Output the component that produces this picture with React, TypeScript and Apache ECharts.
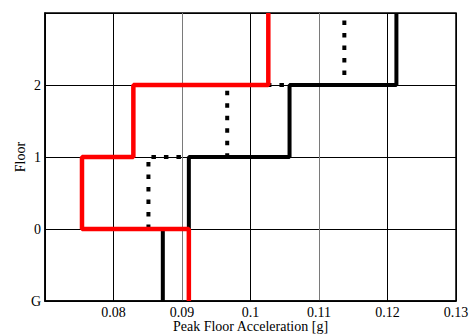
import React, { useEffect, useRef } from "react";
import * as echarts from "echarts";

// Level labels on the vertical axis (index = axis value)
const levelLabels = ["G", "0", "1", "2", ""];

// Peak floor acceleration [g] per level, listed bottom-up
const redAccel = [0.091, 0.0754, 0.0829, 0.1026]; // levels G, 0, 1, 2
const blackAccel = [0.0872, 0.091, 0.1057, 0.1213]; // levels G, 0, 1, 2
const dottedAccel = [0.0851, 0.0966, 0.1137]; // levels 0, 1, 2
const dottedStartLevel = 1;

const xMin = 0.07;
const xMax = 0.13;
const xStep = 0.01;

// Vertical grid line colours, one per tick from xMin to xMax
const xGridColors = ["#000", "#000", "#7a7a7a", "#000", "#7a7a7a", "#000", "#000"];

// Each level's value spans from its own level line up to the next one
function stepProfile(values: number[], startLevel: number): number[][] {
  const pts: number[][] = [];
  values.forEach((v, i) => {
    pts.push([v, startLevel + i]);
    pts.push([v, startLevel + i + 1]);
  });
  return pts;
}

const serif = "Liberation Serif";

export default function App() {
  const ref = useRef<HTMLDivElement>(null);

  useEffect(() => {
    if (!ref.current) return;
    const chart = echarts.init(ref.current, undefined, { renderer: "svg" });
    chart.setOption({
      animation: false,
      backgroundColor: "#ffffff",
      grid: {
        left: 45,
        right: 13,
        top: 13,
        bottom: 34,
        outerBoundsMode: "none",
        containLabel: false,
        show: true,
        borderColor: "#000",
        borderWidth: 1.5,
      },
      xAxis: {
        type: "value",
        min: xMin,
        max: xMax,
        interval: xStep,
        name: "Peak Floor Acceleration [g]",
        nameLocation: "middle",
        nameGap: 17,
        nameMoveOverlap: false,
        nameTextStyle: {
          fontFamily: serif,
          fontSize: 14,
          lineHeight: 16,
          color: "#000",
        },
        axisLine: { show: true, lineStyle: { color: "#000", width: 1.5 } },
        axisTick: { show: false },
        axisLabel: {
          fontFamily: serif,
          fontSize: 14,
          color: "#000",
          margin: 4,
          formatter: (v: number) =>
            Math.abs(v - xMin) < 1e-9 ? "" : String(Number(v.toFixed(2))),
        },
        splitLine: { show: true, lineStyle: { color: xGridColors, width: 1 } },
      },
      yAxis: {
        type: "value",
        min: 0,
        max: levelLabels.length - 1,
        interval: 1,
        name: "Floor",
        nameLocation: "middle",
        nameGap: 18,
        nameMoveOverlap: false,
        nameRotate: 90,
        nameTextStyle: { fontFamily: serif, fontSize: 14, color: "#000" },
        axisLine: { show: true, lineStyle: { color: "#000", width: 1.5 } },
        axisTick: { show: false },
        axisLabel: {
          fontFamily: serif,
          fontSize: 14,
          color: "#000",
          margin: 4,
          formatter: (v: number) => levelLabels[Math.round(v)] ?? "",
        },
        splitLine: { show: true, lineStyle: { color: "#000", width: 1 } },
      },
      series: [
        {
          type: "line",
          data: stepProfile(dottedAccel, dottedStartLevel),
          showSymbol: false,
          z: 2,
          lineStyle: { color: "#000", width: 4, type: [4.5, 8] },
        },
        {
          type: "line",
          data: stepProfile(blackAccel, 0),
          showSymbol: false,
          z: 3,
          lineStyle: { color: "#000", width: 4 },
        },
        {
          type: "line",
          data: stepProfile(redAccel, 0),
          showSymbol: false,
          z: 4,
          lineStyle: { color: "#ff0000", width: 4.5 },
        },
      ],
    });
    return () => chart.dispose();
  }, []);

  return (
    <div
      ref={ref}
      style={{ position: "fixed", left: 0, top: 0, width: 469, height: 335 }}
    />
  );
}
